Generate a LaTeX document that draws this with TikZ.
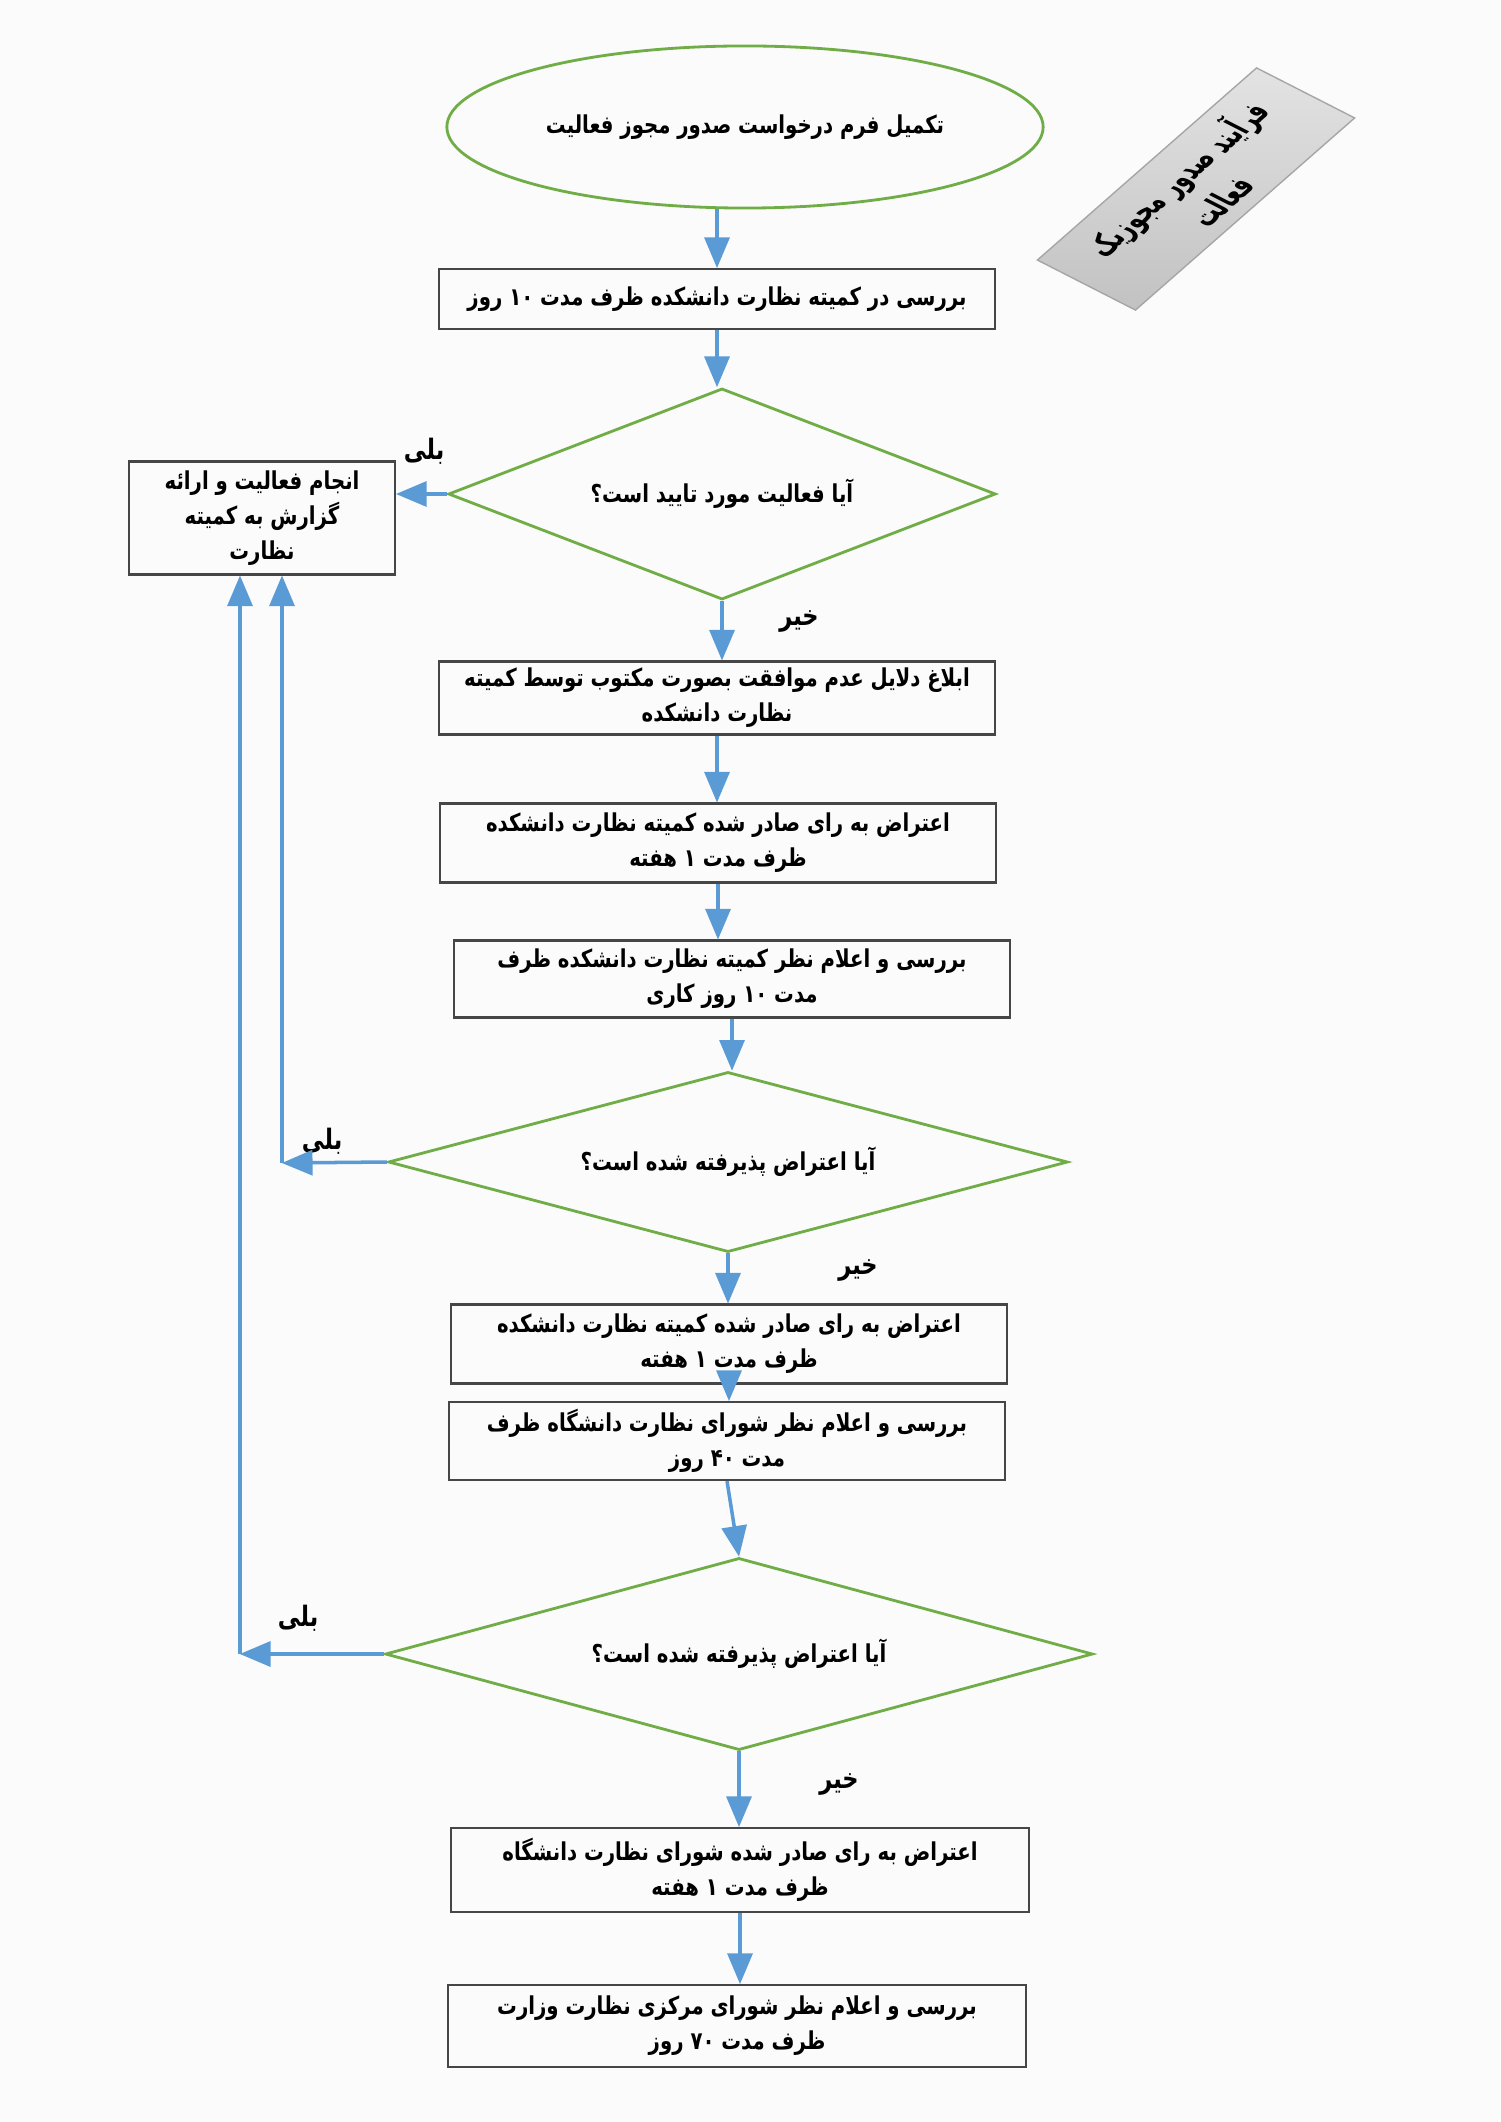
\documentclass[tikz,border=0pt]{standalone}
\usepackage{fontspec}
\usetikzlibrary{shapes}
\usetikzlibrary{arrows}
\TeXXeTstate=1
\newfontfamily\arabicfont[Script=Arabic,FakeStretch=0.8]{DejaVu Sans}
\newfontfamily\titlefont[Script=Arabic,FakeStretch=0.62]{DejaVu Sans}
\newcommand{\fatext}[1]{\beginR #1\endR}
\definecolor{flowblue}{RGB}{91,155,213}
\definecolor{flowgreen}{RGB}{112,173,71}
\definecolor{boxgray}{RGB}{70,70,70}
\definecolor{pagebg}{RGB}{251,251,251}

\begin{document}
\begin{tikzpicture}[x=0.01cm,y=-0.01cm]
				\tikzstyle{every node}=[font=\arabicfont\bfseries\fontsize{7}{10}\selectfont,align=center]
				\tikzstyle{stepbox}=[rectangle,draw=boxgray,line width=0.6pt,inner sep=0pt]
				\tikzstyle{decision}=[diamond,draw=flowgreen,line width=0.8pt,inner sep=0pt]
				\tikzstyle{flow}=[-triangle 45,draw=flowblue,line width=1pt]
				\tikzstyle{answer}=[font=\arabicfont\bfseries\fontsize{8}{10}\selectfont]
				\tikzstyle{titlebox}=[rectangle,draw=gray!70,top color=gray!22,bottom color=gray!48,inner sep=0pt,font=\titlefont\bfseries\fontsize{9.8}{14}\selectfont]
				
				\fill[pagebg] (0,0) rectangle (1500,2122);
				
				\node[ellipse,draw=flowgreen,line width=0.8pt,minimum width=5.45cm,minimum height=1.62cm] (start) at (745,127) {\fatext{تکمیل فرم درخواست صدور مجوز فعالیت}};
				% skewed title card
				\begin{scope}[shift={(1196,189)},cm={0.7526,0.6598,-0.891,0.4545,(0,0)}]
				\node[titlebox,transform shape,minimum width=2.91cm,minimum height=1.1cm] (title) at (0,0) {\fatext{فرآیند صدور مجوزیک}\\\fatext{فعالت}};
				\end{scope}
				
				\node[stepbox,minimum width=5.55cm,minimum height=0.6cm] (check) at (717,299) {\fatext{بررسی در کمیته نظارت دانشکده ظرف مدت ۱۰ روز}};
				\node[decision,aspect=2.59,minimum width=5.47cm,minimum height=2.11cm] (approved) at (722,494) {\fatext{آیا فعالیت مورد تایید است؟}};
				\node[stepbox,minimum width=2.66cm,minimum height=1.13cm] (report) at (262,518) {\fatext{انجام فعالیت و ارائه}\\\fatext{گزارش به کمیته}\\\fatext{نظارت}};
				\node[stepbox,minimum width=5.56cm,minimum height=0.73cm] (notify) at (717,698) {\fatext{ابلاغ دلایل عدم موافقت بصورت مکتوب توسط کمیته}\\\fatext{نظارت دانشکده}};
				\node[stepbox,minimum width=5.56cm,minimum height=0.79cm] (objection1) at (718,843) {\fatext{اعتراض به رای صادر شده کمیته نظارت دانشکده}\\\fatext{ظرف مدت ۱ هفته}};
				\node[stepbox,minimum width=5.55cm,minimum height=0.77cm] (review1) at (732,979) {\fatext{بررسی و اعلام نظر کمیته نظارت دانشکده ظرف}\\\fatext{مدت ۱۰ روز کاری}};
				\node[decision,aspect=3.77,minimum width=6.79cm,minimum height=1.8cm] (accepted1) at (728,1162) {\fatext{آیا اعتراض پذیرفته شده است؟}};
				\node[stepbox,minimum width=5.55cm,minimum height=0.79cm] (objection2) at (729,1344) {\fatext{اعتراض به رای صادر شده کمیته نظارت دانشکده}\\\fatext{ظرف مدت ۱ هفته}};
				\node[stepbox,minimum width=5.56cm,minimum height=0.78cm] (review2) at (727,1441) {\fatext{بررسی و اعلام نظر شورای نظارت دانشگاه ظرف}\\\fatext{مدت ۴۰ روز}};
				\node[decision,aspect=3.68,minimum width=7.07cm,minimum height=1.92cm] (accepted2) at (739,1654) {\fatext{آیا اعتراض پذیرفته شده است؟}};
				\node[stepbox,minimum width=5.78cm,minimum height=0.84cm] (objection3) at (740,1870) {\fatext{اعتراض به رای صادر شده شورای نظارت دانشگاه}\\\fatext{ظرف مدت ۱ هفته}};
				\node[stepbox,minimum width=5.78cm,minimum height=0.82cm] (review3) at (737,2026) {\fatext{بررسی و اعلام نظر شورای مرکزی  نظارت وزارت}\\\fatext{ظرف مدت ۷۰ روز}};
				
				\node[answer] (yes0) at (424,451) {\fatext{بلی}};
				\node[answer] (no0) at (799,621) {\fatext{خیر}};
				\node[answer] (yes1lbl) at (322,1141) {\fatext{بلی}};
				\node[answer] (no1) at (858,1270) {\fatext{خیر}};
				\node[answer] (yes2lbl) at (298,1618) {\fatext{بلی}};
				\node[answer] (no2) at (839,1784) {\fatext{خیر}};
				
				\coordinate (yes1) at (282,1163);
				\coordinate (yes2) at (240,1654);
				
				\draw[flow] (start.south -| check.north) -- (check.north);
				\draw[flow] (check.south) -- (check.south |- approved.north);
				\draw[flow] (approved.west) -- (approved.west -| report.east);
				\draw[flow] (approved.south) -- (approved.south |- notify.north);
				\draw[flow] (notify.south) -- (notify.south |- objection1.north);
				\draw[flow] (objection1.south) -- (objection1.south |- review1.north);
				\draw[flow] (review1.south) -- (review1.south |- accepted1.north);
				\draw[flow] (accepted1.west) -- (yes1);
				\draw[flow] (yes1) -- (yes1 |- report.south);
				\draw[flow] (accepted1.south) -- (accepted1.south |- objection2.north);
				\draw[flow] (objection2.south) -- (objection2.south |- review2.north);
				\draw[flow] (review2.south) -- (accepted2.north);
				\draw[flow] (accepted2.west) -- (yes2);
				\draw[flow] (yes2) -- (yes2 |- report.south);
				\draw[flow] (accepted2.south) -- (accepted2.south |- objection3.north);
				\draw[flow] (objection3.south) -- (objection3.south |- review3.north);
\end{tikzpicture}
\end{document}
